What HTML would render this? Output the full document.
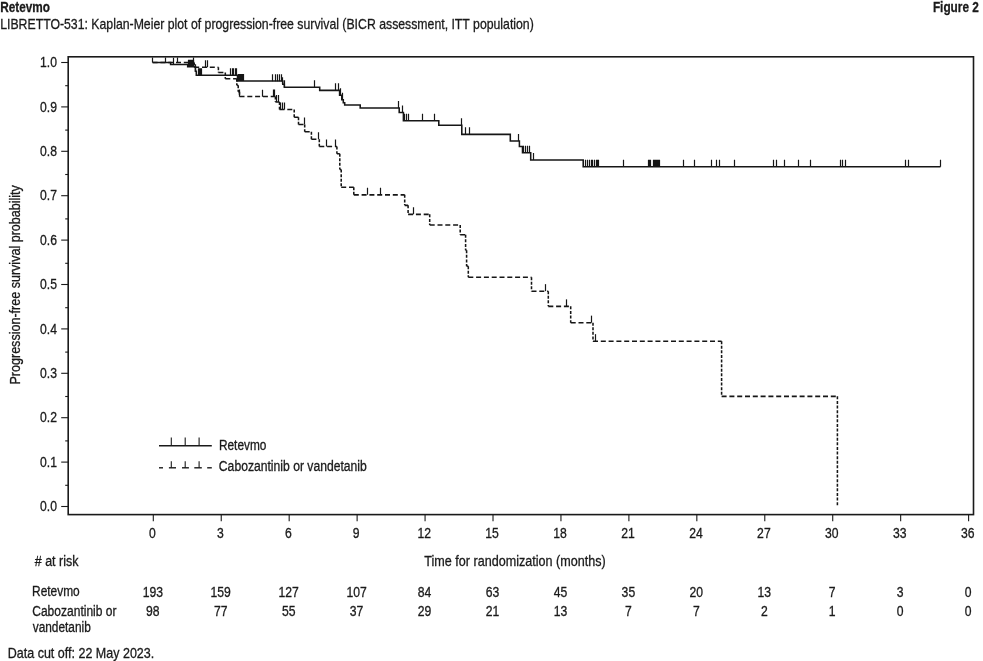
<!DOCTYPE html>
<html><head><meta charset="utf-8"><style>
html,body{margin:0;padding:0;background:#fff;}
body{width:983px;height:661px;overflow:hidden;font-family:"Liberation Sans", sans-serif;}
svg{display:block;will-change:transform;}
</style></head><body>
<svg width="983" height="661" viewBox="0 0 983 661">
<g font-family="Liberation Sans, sans-serif" fill="#1a1a1a" stroke="#1a1a1a" stroke-width="0.3">
<text x="0.21" y="11.7" font-size="15" font-weight="bold" textLength="49.76" lengthAdjust="spacingAndGlyphs">Retevmo</text>
<text x="0.18" y="28.8" font-size="15" font-weight="normal" textLength="533.61" lengthAdjust="spacingAndGlyphs">LIBRETTO-531: Kaplan-Meier plot of progression-free survival (BICR assessment, ITT population)</text>
<text x="932.91" y="11.5" font-size="15" font-weight="bold" textLength="45.97" lengthAdjust="spacingAndGlyphs">Figure 2</text>
<text x="34.80" y="565.8" font-size="14" font-weight="normal" textLength="43.64" lengthAdjust="spacingAndGlyphs"># at risk</text>
<text x="424.28" y="566.2" font-size="14.5" font-weight="normal" textLength="181.47" lengthAdjust="spacingAndGlyphs">Time for randomization (months)</text>
<text x="32.05" y="596.0" font-size="14" font-weight="normal" textLength="47.70" lengthAdjust="spacingAndGlyphs">Retevmo</text>
<text x="32.26" y="616.1" font-size="14" font-weight="normal" textLength="84.21" lengthAdjust="spacingAndGlyphs">Cabozantinib or</text>
<text x="32.69" y="631.9" font-size="14" font-weight="normal" textLength="58.15" lengthAdjust="spacingAndGlyphs">vandetanib</text>
<text x="7.74" y="657.8" font-size="14.5" font-weight="normal" textLength="146.49" lengthAdjust="spacingAndGlyphs">Data cut off: 22 May 2023.</text>
<text x="218.95" y="449.8" font-size="14" font-weight="normal" textLength="47.50" lengthAdjust="spacingAndGlyphs">Retevmo</text>
<text x="218.85" y="470.7" font-size="14" font-weight="normal" textLength="147.96" lengthAdjust="spacingAndGlyphs">Cabozantinib or vandetanib</text>
<text transform="translate(20,284.85) rotate(-90)" x="0" y="0" text-anchor="middle" font-size="14.5" textLength="199.38" lengthAdjust="spacingAndGlyphs">Progression-free survival probability</text>
<text x="57.0" y="511.10" text-anchor="end" font-size="14" textLength="16.92" lengthAdjust="spacingAndGlyphs">0.0</text>
<text x="57.0" y="466.70" text-anchor="end" font-size="14" textLength="16.92" lengthAdjust="spacingAndGlyphs">0.1</text>
<text x="57.0" y="422.30" text-anchor="end" font-size="14" textLength="16.92" lengthAdjust="spacingAndGlyphs">0.2</text>
<text x="57.0" y="377.90" text-anchor="end" font-size="14" textLength="16.92" lengthAdjust="spacingAndGlyphs">0.3</text>
<text x="57.0" y="333.50" text-anchor="end" font-size="14" textLength="16.92" lengthAdjust="spacingAndGlyphs">0.4</text>
<text x="57.0" y="289.10" text-anchor="end" font-size="14" textLength="16.92" lengthAdjust="spacingAndGlyphs">0.5</text>
<text x="57.0" y="244.70" text-anchor="end" font-size="14" textLength="16.92" lengthAdjust="spacingAndGlyphs">0.6</text>
<text x="57.0" y="200.30" text-anchor="end" font-size="14" textLength="16.92" lengthAdjust="spacingAndGlyphs">0.7</text>
<text x="57.0" y="155.90" text-anchor="end" font-size="14" textLength="16.92" lengthAdjust="spacingAndGlyphs">0.8</text>
<text x="57.0" y="111.50" text-anchor="end" font-size="14" textLength="16.92" lengthAdjust="spacingAndGlyphs">0.9</text>
<text x="57.0" y="67.10" text-anchor="end" font-size="14" textLength="16.92" lengthAdjust="spacingAndGlyphs">1.0</text>
<text x="152.40" y="537.9" text-anchor="middle" font-size="14" textLength="6.77" lengthAdjust="spacingAndGlyphs">0</text>
<text x="220.34" y="537.9" text-anchor="middle" font-size="14" textLength="6.77" lengthAdjust="spacingAndGlyphs">3</text>
<text x="288.28" y="537.9" text-anchor="middle" font-size="14" textLength="6.77" lengthAdjust="spacingAndGlyphs">6</text>
<text x="356.23" y="537.9" text-anchor="middle" font-size="14" textLength="6.77" lengthAdjust="spacingAndGlyphs">9</text>
<text x="424.17" y="537.9" text-anchor="middle" font-size="14" textLength="13.54" lengthAdjust="spacingAndGlyphs">12</text>
<text x="492.11" y="537.9" text-anchor="middle" font-size="14" textLength="13.54" lengthAdjust="spacingAndGlyphs">15</text>
<text x="560.05" y="537.9" text-anchor="middle" font-size="14" textLength="13.54" lengthAdjust="spacingAndGlyphs">18</text>
<text x="627.99" y="537.9" text-anchor="middle" font-size="14" textLength="13.54" lengthAdjust="spacingAndGlyphs">21</text>
<text x="695.93" y="537.9" text-anchor="middle" font-size="14" textLength="13.54" lengthAdjust="spacingAndGlyphs">24</text>
<text x="763.88" y="537.9" text-anchor="middle" font-size="14" textLength="13.54" lengthAdjust="spacingAndGlyphs">27</text>
<text x="831.82" y="537.9" text-anchor="middle" font-size="14" textLength="13.54" lengthAdjust="spacingAndGlyphs">30</text>
<text x="899.76" y="537.9" text-anchor="middle" font-size="14" textLength="13.54" lengthAdjust="spacingAndGlyphs">33</text>
<text x="967.70" y="537.9" text-anchor="middle" font-size="14" textLength="13.54" lengthAdjust="spacingAndGlyphs">36</text>
<text x="152.80" y="596.8" text-anchor="middle" font-size="14" textLength="20.31" lengthAdjust="spacingAndGlyphs">193</text>
<text x="152.80" y="615.7" text-anchor="middle" font-size="14" textLength="13.54" lengthAdjust="spacingAndGlyphs">98</text>
<text x="220.74" y="596.8" text-anchor="middle" font-size="14" textLength="20.31" lengthAdjust="spacingAndGlyphs">159</text>
<text x="220.74" y="615.7" text-anchor="middle" font-size="14" textLength="13.54" lengthAdjust="spacingAndGlyphs">77</text>
<text x="288.68" y="596.8" text-anchor="middle" font-size="14" textLength="20.31" lengthAdjust="spacingAndGlyphs">127</text>
<text x="288.68" y="615.7" text-anchor="middle" font-size="14" textLength="13.54" lengthAdjust="spacingAndGlyphs">55</text>
<text x="356.62" y="596.8" text-anchor="middle" font-size="14" textLength="20.31" lengthAdjust="spacingAndGlyphs">107</text>
<text x="356.62" y="615.7" text-anchor="middle" font-size="14" textLength="13.54" lengthAdjust="spacingAndGlyphs">37</text>
<text x="424.57" y="596.8" text-anchor="middle" font-size="14" textLength="13.54" lengthAdjust="spacingAndGlyphs">84</text>
<text x="424.57" y="615.7" text-anchor="middle" font-size="14" textLength="13.54" lengthAdjust="spacingAndGlyphs">29</text>
<text x="492.51" y="596.8" text-anchor="middle" font-size="14" textLength="13.54" lengthAdjust="spacingAndGlyphs">63</text>
<text x="492.51" y="615.7" text-anchor="middle" font-size="14" textLength="13.54" lengthAdjust="spacingAndGlyphs">21</text>
<text x="560.45" y="596.8" text-anchor="middle" font-size="14" textLength="13.54" lengthAdjust="spacingAndGlyphs">45</text>
<text x="560.45" y="615.7" text-anchor="middle" font-size="14" textLength="13.54" lengthAdjust="spacingAndGlyphs">13</text>
<text x="628.39" y="596.8" text-anchor="middle" font-size="14" textLength="13.54" lengthAdjust="spacingAndGlyphs">35</text>
<text x="628.39" y="615.7" text-anchor="middle" font-size="14" textLength="6.77" lengthAdjust="spacingAndGlyphs">7</text>
<text x="696.33" y="596.8" text-anchor="middle" font-size="14" textLength="13.54" lengthAdjust="spacingAndGlyphs">20</text>
<text x="696.33" y="615.7" text-anchor="middle" font-size="14" textLength="6.77" lengthAdjust="spacingAndGlyphs">7</text>
<text x="764.28" y="596.8" text-anchor="middle" font-size="14" textLength="13.54" lengthAdjust="spacingAndGlyphs">13</text>
<text x="764.28" y="615.7" text-anchor="middle" font-size="14" textLength="6.77" lengthAdjust="spacingAndGlyphs">2</text>
<text x="832.22" y="596.8" text-anchor="middle" font-size="14" textLength="6.77" lengthAdjust="spacingAndGlyphs">7</text>
<text x="832.22" y="615.7" text-anchor="middle" font-size="14" textLength="6.77" lengthAdjust="spacingAndGlyphs">1</text>
<text x="900.16" y="596.8" text-anchor="middle" font-size="14" textLength="6.77" lengthAdjust="spacingAndGlyphs">3</text>
<text x="900.16" y="615.7" text-anchor="middle" font-size="14" textLength="6.77" lengthAdjust="spacingAndGlyphs">0</text>
<text x="968.10" y="596.8" text-anchor="middle" font-size="14" textLength="6.77" lengthAdjust="spacingAndGlyphs">0</text>
<text x="968.10" y="615.7" text-anchor="middle" font-size="14" textLength="6.77" lengthAdjust="spacingAndGlyphs">0</text>
</g>
<g stroke="#1a1a1a" fill="none">
<rect x="68.2" y="56.8" width="905.3" height="457.8" stroke-width="1.6"/>
<line x1="61.2" y1="506.50" x2="68" y2="506.50" stroke-width="1.1"/>
<line x1="61.2" y1="462.10" x2="68" y2="462.10" stroke-width="1.1"/>
<line x1="61.2" y1="417.70" x2="68" y2="417.70" stroke-width="1.1"/>
<line x1="61.2" y1="373.30" x2="68" y2="373.30" stroke-width="1.1"/>
<line x1="61.2" y1="328.90" x2="68" y2="328.90" stroke-width="1.1"/>
<line x1="61.2" y1="284.50" x2="68" y2="284.50" stroke-width="1.1"/>
<line x1="61.2" y1="240.10" x2="68" y2="240.10" stroke-width="1.1"/>
<line x1="61.2" y1="195.70" x2="68" y2="195.70" stroke-width="1.1"/>
<line x1="61.2" y1="151.30" x2="68" y2="151.30" stroke-width="1.1"/>
<line x1="61.2" y1="106.90" x2="68" y2="106.90" stroke-width="1.1"/>
<line x1="61.2" y1="62.50" x2="68" y2="62.50" stroke-width="1.1"/>
<line x1="65.2" y1="485.30" x2="68" y2="485.30" stroke-width="1.1"/>
<line x1="65.2" y1="440.90" x2="68" y2="440.90" stroke-width="1.1"/>
<line x1="65.2" y1="396.50" x2="68" y2="396.50" stroke-width="1.1"/>
<line x1="65.2" y1="352.10" x2="68" y2="352.10" stroke-width="1.1"/>
<line x1="65.2" y1="307.70" x2="68" y2="307.70" stroke-width="1.1"/>
<line x1="65.2" y1="263.30" x2="68" y2="263.30" stroke-width="1.1"/>
<line x1="65.2" y1="218.90" x2="68" y2="218.90" stroke-width="1.1"/>
<line x1="65.2" y1="174.50" x2="68" y2="174.50" stroke-width="1.1"/>
<line x1="65.2" y1="130.10" x2="68" y2="130.10" stroke-width="1.1"/>
<line x1="65.2" y1="85.70" x2="68" y2="85.70" stroke-width="1.1"/>
<line x1="153.30" y1="514.6" x2="153.30" y2="521.2" stroke-width="1.1"/>
<line x1="221.24" y1="514.6" x2="221.24" y2="521.2" stroke-width="1.1"/>
<line x1="289.18" y1="514.6" x2="289.18" y2="521.2" stroke-width="1.1"/>
<line x1="357.12" y1="514.6" x2="357.12" y2="521.2" stroke-width="1.1"/>
<line x1="425.07" y1="514.6" x2="425.07" y2="521.2" stroke-width="1.1"/>
<line x1="493.01" y1="514.6" x2="493.01" y2="521.2" stroke-width="1.1"/>
<line x1="560.95" y1="514.6" x2="560.95" y2="521.2" stroke-width="1.1"/>
<line x1="628.89" y1="514.6" x2="628.89" y2="521.2" stroke-width="1.1"/>
<line x1="696.83" y1="514.6" x2="696.83" y2="521.2" stroke-width="1.1"/>
<line x1="764.78" y1="514.6" x2="764.78" y2="521.2" stroke-width="1.1"/>
<line x1="832.72" y1="514.6" x2="832.72" y2="521.2" stroke-width="1.1"/>
<line x1="900.66" y1="514.6" x2="900.66" y2="521.2" stroke-width="1.1"/>
<line x1="968.60" y1="514.6" x2="968.60" y2="521.2" stroke-width="1.1"/>
</g>
<defs><clipPath id="pc"><rect x="68" y="57.6" width="905" height="457"/></clipPath></defs>
<g stroke="#161616" fill="none" stroke-width="1.55" clip-path="url(#pc)">
<path d="M152.6,62.45 H170.6 V64.45 H187.7 V66.65 H195.4 V71.25 H196.3 V75.25 H237.5 V81.05 H282.8 V84.25 H284.3 V87.25 H319.7 V90.35 H339.6 V95.25 H341.8 V99.75 H343.3 V102.75 H344.7 V105.05 H360.2 V108.05 H399.2 V112.55 H403.4 V120.65 H438.8 V125.15 H461.8 V134.35 H510.3 V141.05 H519.4 V146.55 H522.5 V152.65 H530.7 V159.95 H583.2 V166.65 H940.5"/>
<line x1="152.5" y1="62.45" x2="152.5" y2="55.45" stroke-width="1.2"/>
<line x1="165.5" y1="62.45" x2="165.5" y2="55.45" stroke-width="1.2"/>
<line x1="173.5" y1="64.45" x2="173.5" y2="57.45" stroke-width="1.2"/>
<line x1="188.5" y1="66.65" x2="188.5" y2="59.650000000000006" stroke-width="1.2"/>
<line x1="189.5" y1="66.65" x2="189.5" y2="59.650000000000006" stroke-width="1.2"/>
<line x1="190.5" y1="66.65" x2="190.5" y2="59.650000000000006" stroke-width="1.2"/>
<line x1="191.5" y1="66.65" x2="191.5" y2="59.650000000000006" stroke-width="1.2"/>
<line x1="192.5" y1="66.65" x2="192.5" y2="59.650000000000006" stroke-width="1.2"/>
<line x1="193.5" y1="66.65" x2="193.5" y2="59.650000000000006" stroke-width="1.2"/>
<line x1="195.5" y1="71.25" x2="195.5" y2="64.25" stroke-width="1.2"/>
<line x1="198.5" y1="75.25" x2="198.5" y2="68.25" stroke-width="1.2"/>
<line x1="199.5" y1="75.25" x2="199.5" y2="68.25" stroke-width="1.2"/>
<line x1="200.5" y1="75.25" x2="200.5" y2="68.25" stroke-width="1.2"/>
<line x1="201.5" y1="75.25" x2="201.5" y2="68.25" stroke-width="1.2"/>
<line x1="230.5" y1="75.25" x2="230.5" y2="68.25" stroke-width="1.2"/>
<line x1="232.5" y1="75.25" x2="232.5" y2="68.25" stroke-width="1.2"/>
<line x1="233.5" y1="75.25" x2="233.5" y2="68.25" stroke-width="1.2"/>
<line x1="235.5" y1="75.25" x2="235.5" y2="68.25" stroke-width="1.2"/>
<line x1="236.5" y1="75.25" x2="236.5" y2="68.25" stroke-width="1.2"/>
<line x1="238.5" y1="81.05" x2="238.5" y2="74.05" stroke-width="1.2"/>
<line x1="239.5" y1="81.05" x2="239.5" y2="74.05" stroke-width="1.2"/>
<line x1="240.5" y1="81.05" x2="240.5" y2="74.05" stroke-width="1.2"/>
<line x1="241.5" y1="81.05" x2="241.5" y2="74.05" stroke-width="1.2"/>
<line x1="242.5" y1="81.05" x2="242.5" y2="74.05" stroke-width="1.2"/>
<line x1="243.5" y1="81.05" x2="243.5" y2="74.05" stroke-width="1.2"/>
<line x1="272.5" y1="81.25" x2="272.5" y2="74.25" stroke-width="1.2"/>
<line x1="275.5" y1="81.25" x2="275.5" y2="74.25" stroke-width="1.2"/>
<line x1="277.5" y1="81.25" x2="277.5" y2="74.25" stroke-width="1.2"/>
<line x1="279.5" y1="81.25" x2="279.5" y2="74.25" stroke-width="1.2"/>
<line x1="281.5" y1="81.25" x2="281.5" y2="74.25" stroke-width="1.2"/>
<line x1="282.5" y1="84.25" x2="282.5" y2="77.25" stroke-width="1.2"/>
<line x1="284.5" y1="87.25" x2="284.5" y2="80.25" stroke-width="1.2"/>
<line x1="314.5" y1="87.25" x2="314.5" y2="80.25" stroke-width="1.2"/>
<line x1="335.5" y1="90.35" x2="335.5" y2="83.35" stroke-width="1.2"/>
<line x1="338.5" y1="90.35" x2="338.5" y2="83.35" stroke-width="1.2"/>
<line x1="340.5" y1="95.25" x2="340.5" y2="88.25" stroke-width="1.2"/>
<line x1="342.5" y1="99.75" x2="342.5" y2="92.75" stroke-width="1.2"/>
<line x1="398.5" y1="108.05" x2="398.5" y2="101.05" stroke-width="1.2"/>
<line x1="402.5" y1="112.55" x2="402.5" y2="105.55" stroke-width="1.2"/>
<line x1="404.5" y1="120.65" x2="404.5" y2="113.65" stroke-width="1.2"/>
<line x1="406.5" y1="120.65" x2="406.5" y2="113.65" stroke-width="1.2"/>
<line x1="408.5" y1="120.65" x2="408.5" y2="113.65" stroke-width="1.2"/>
<line x1="422.5" y1="120.65" x2="422.5" y2="113.65" stroke-width="1.2"/>
<line x1="434.5" y1="120.65" x2="434.5" y2="113.65" stroke-width="1.2"/>
<line x1="461.5" y1="125.15" x2="461.5" y2="118.15" stroke-width="1.2"/>
<line x1="465.5" y1="134.35" x2="465.5" y2="127.35" stroke-width="1.2"/>
<line x1="469.5" y1="134.35" x2="469.5" y2="127.35" stroke-width="1.2"/>
<line x1="518.5" y1="141.05" x2="518.5" y2="134.05" stroke-width="1.2"/>
<line x1="523.5" y1="152.65" x2="523.5" y2="145.65" stroke-width="1.2"/>
<line x1="525.5" y1="152.65" x2="525.5" y2="145.65" stroke-width="1.2"/>
<line x1="527.5" y1="152.65" x2="527.5" y2="145.65" stroke-width="1.2"/>
<line x1="529.5" y1="152.65" x2="529.5" y2="145.65" stroke-width="1.2"/>
<line x1="533.5" y1="159.95" x2="533.5" y2="152.95" stroke-width="1.2"/>
<line x1="585.5" y1="166.65" x2="585.5" y2="159.65" stroke-width="1.2"/>
<line x1="587.5" y1="166.65" x2="587.5" y2="159.65" stroke-width="1.2"/>
<line x1="589.5" y1="166.65" x2="589.5" y2="159.65" stroke-width="1.2"/>
<line x1="591.5" y1="166.65" x2="591.5" y2="159.65" stroke-width="1.2"/>
<line x1="592.5" y1="166.65" x2="592.5" y2="159.65" stroke-width="1.2"/>
<line x1="594.5" y1="166.65" x2="594.5" y2="159.65" stroke-width="1.2"/>
<line x1="596.5" y1="166.65" x2="596.5" y2="159.65" stroke-width="1.2"/>
<line x1="597.5" y1="166.65" x2="597.5" y2="159.65" stroke-width="1.2"/>
<line x1="598.5" y1="166.65" x2="598.5" y2="159.65" stroke-width="1.2"/>
<line x1="623.5" y1="166.65" x2="623.5" y2="159.65" stroke-width="1.2"/>
<line x1="648.5" y1="166.65" x2="648.5" y2="159.65" stroke-width="1.2"/>
<line x1="649.5" y1="166.65" x2="649.5" y2="159.65" stroke-width="1.2"/>
<line x1="650.5" y1="166.65" x2="650.5" y2="159.65" stroke-width="1.2"/>
<line x1="653.5" y1="166.65" x2="653.5" y2="159.65" stroke-width="1.2"/>
<line x1="654.5" y1="166.65" x2="654.5" y2="159.65" stroke-width="1.2"/>
<line x1="655.5" y1="166.65" x2="655.5" y2="159.65" stroke-width="1.2"/>
<line x1="656.5" y1="166.65" x2="656.5" y2="159.65" stroke-width="1.2"/>
<line x1="657.5" y1="166.65" x2="657.5" y2="159.65" stroke-width="1.2"/>
<line x1="658.5" y1="166.65" x2="658.5" y2="159.65" stroke-width="1.2"/>
<line x1="659.5" y1="166.65" x2="659.5" y2="159.65" stroke-width="1.2"/>
<line x1="683.5" y1="166.65" x2="683.5" y2="159.65" stroke-width="1.2"/>
<line x1="694.5" y1="166.65" x2="694.5" y2="159.65" stroke-width="1.2"/>
<line x1="711.5" y1="166.65" x2="711.5" y2="159.65" stroke-width="1.2"/>
<line x1="716.5" y1="166.65" x2="716.5" y2="159.65" stroke-width="1.2"/>
<line x1="719.5" y1="166.65" x2="719.5" y2="159.65" stroke-width="1.2"/>
<line x1="734.5" y1="166.65" x2="734.5" y2="159.65" stroke-width="1.2"/>
<line x1="773.5" y1="166.65" x2="773.5" y2="159.65" stroke-width="1.2"/>
<line x1="776.5" y1="166.65" x2="776.5" y2="159.65" stroke-width="1.2"/>
<line x1="784.5" y1="166.65" x2="784.5" y2="159.65" stroke-width="1.2"/>
<line x1="798.5" y1="166.65" x2="798.5" y2="159.65" stroke-width="1.2"/>
<line x1="810.5" y1="166.65" x2="810.5" y2="159.65" stroke-width="1.2"/>
<line x1="840.5" y1="166.65" x2="840.5" y2="159.65" stroke-width="1.2"/>
<line x1="842.5" y1="166.65" x2="842.5" y2="159.65" stroke-width="1.2"/>
<line x1="845.5" y1="166.65" x2="845.5" y2="159.65" stroke-width="1.2"/>
<line x1="905.5" y1="166.65" x2="905.5" y2="159.65" stroke-width="1.2"/>
<line x1="908.5" y1="166.65" x2="908.5" y2="159.65" stroke-width="1.2"/>
<line x1="940.5" y1="166.65" x2="940.5" y2="159.65" stroke-width="1.2"/>
<line x1="152.6" y1="62.45" x2="194.2" y2="62.45" stroke-dasharray="5 2.8"/>
<line x1="194.2" y1="67.25" x2="218.4" y2="67.25" stroke-dasharray="5 2.8"/>
<line x1="218.4" y1="72.45" x2="225.3" y2="72.45" stroke-dasharray="5 2.8"/>
<line x1="225.3" y1="78.75" x2="236.8" y2="78.75" stroke-dasharray="5 2.8"/>
<line x1="236.8" y1="85.25" x2="238.2" y2="85.25" stroke-dasharray="5 2.8"/>
<line x1="238.2" y1="91.75" x2="239.5" y2="91.75" stroke-dasharray="5 2.8"/>
<line x1="239.5" y1="96.55" x2="275.4" y2="96.55" stroke-dasharray="5 2.8"/>
<line x1="275.4" y1="102.05" x2="279.5" y2="102.05" stroke-dasharray="5 2.8"/>
<line x1="279.5" y1="109.55" x2="294.2" y2="109.55" stroke-dasharray="5 2.8"/>
<line x1="294.2" y1="117.25" x2="298.5" y2="117.25" stroke-dasharray="5 2.8"/>
<line x1="298.5" y1="124.55" x2="304.7" y2="124.55" stroke-dasharray="5 2.8"/>
<line x1="304.7" y1="131.65" x2="311.4" y2="131.65" stroke-dasharray="5 2.8"/>
<line x1="311.4" y1="139.25" x2="319.3" y2="139.25" stroke-dasharray="5 2.8"/>
<line x1="319.3" y1="146.55" x2="336.9" y2="146.55" stroke-dasharray="5 2.8"/>
<line x1="336.9" y1="153.65" x2="339.8" y2="153.65" stroke-dasharray="5 2.8"/>
<line x1="339.8" y1="169.55" x2="341.2" y2="169.55" stroke-dasharray="5 2.8"/>
<line x1="341.2" y1="187.25" x2="353.8" y2="187.25" stroke-dasharray="5 2.8"/>
<line x1="353.8" y1="194.85" x2="404.7" y2="194.85" stroke-dasharray="5 2.8"/>
<line x1="404.7" y1="205.35" x2="408.1" y2="205.35" stroke-dasharray="5 2.8"/>
<line x1="408.1" y1="214.35" x2="429.7" y2="214.35" stroke-dasharray="5 2.8"/>
<line x1="429.7" y1="224.95" x2="460.2" y2="224.95" stroke-dasharray="5 2.8"/>
<line x1="460.2" y1="234.75" x2="465.6" y2="234.75" stroke-dasharray="5 2.8"/>
<line x1="465.6" y1="250.25" x2="466.6" y2="250.25" stroke-dasharray="5 2.8"/>
<line x1="466.6" y1="266.15" x2="468.3" y2="266.15" stroke-dasharray="5 2.8"/>
<line x1="468.3" y1="277.15" x2="531.5" y2="277.15" stroke-dasharray="5 2.8"/>
<line x1="531.5" y1="291.15" x2="548.3" y2="291.15" stroke-dasharray="5 2.8"/>
<line x1="548.3" y1="306.35" x2="570.7" y2="306.35" stroke-dasharray="5 2.8"/>
<line x1="570.7" y1="322.65" x2="593.0" y2="322.65" stroke-dasharray="5 2.8"/>
<line x1="593.0" y1="341.15" x2="721.6" y2="341.15" stroke-dasharray="5 2.8"/>
<line x1="721.6" y1="396.35" x2="837.4" y2="396.35" stroke-dasharray="5 2.8"/>
<line x1="194.2" y1="62.45" x2="194.2" y2="67.25" stroke-dasharray="3 1.6"/>
<line x1="218.4" y1="67.25" x2="218.4" y2="72.45" stroke-dasharray="3 1.6"/>
<line x1="225.3" y1="72.45" x2="225.3" y2="78.75" stroke-dasharray="3 1.6"/>
<line x1="236.8" y1="78.75" x2="236.8" y2="85.25" stroke-dasharray="3 1.6"/>
<line x1="238.2" y1="85.25" x2="238.2" y2="91.75" stroke-dasharray="3 1.6"/>
<line x1="239.5" y1="91.75" x2="239.5" y2="96.55" stroke-dasharray="3 1.6"/>
<line x1="275.4" y1="96.55" x2="275.4" y2="102.05" stroke-dasharray="3 1.6"/>
<line x1="279.5" y1="102.05" x2="279.5" y2="109.55" stroke-dasharray="3 1.6"/>
<line x1="294.2" y1="109.55" x2="294.2" y2="117.25" stroke-dasharray="3 1.6"/>
<line x1="298.5" y1="117.25" x2="298.5" y2="124.55" stroke-dasharray="3 1.6"/>
<line x1="304.7" y1="124.55" x2="304.7" y2="131.65" stroke-dasharray="3 1.6"/>
<line x1="311.4" y1="131.65" x2="311.4" y2="139.25" stroke-dasharray="3 1.6"/>
<line x1="319.3" y1="139.25" x2="319.3" y2="146.55" stroke-dasharray="3 1.6"/>
<line x1="336.9" y1="146.55" x2="336.9" y2="153.65" stroke-dasharray="3 1.6"/>
<line x1="339.8" y1="153.65" x2="339.8" y2="169.55" stroke-dasharray="3 1.6"/>
<line x1="341.2" y1="169.55" x2="341.2" y2="187.25" stroke-dasharray="3 1.6"/>
<line x1="353.8" y1="187.25" x2="353.8" y2="194.85" stroke-dasharray="3 1.6"/>
<line x1="404.7" y1="194.85" x2="404.7" y2="205.35" stroke-dasharray="3 1.6"/>
<line x1="408.1" y1="205.35" x2="408.1" y2="214.35" stroke-dasharray="3 1.6"/>
<line x1="429.7" y1="214.35" x2="429.7" y2="224.95" stroke-dasharray="3 1.6"/>
<line x1="460.2" y1="224.95" x2="460.2" y2="234.75" stroke-dasharray="3 1.6"/>
<line x1="465.6" y1="234.75" x2="465.6" y2="250.25" stroke-dasharray="3 1.6"/>
<line x1="466.6" y1="250.25" x2="466.6" y2="266.15" stroke-dasharray="3 1.6"/>
<line x1="468.3" y1="266.15" x2="468.3" y2="277.15" stroke-dasharray="3 1.6"/>
<line x1="531.5" y1="277.15" x2="531.5" y2="291.15" stroke-dasharray="3 1.6"/>
<line x1="548.3" y1="291.15" x2="548.3" y2="306.35" stroke-dasharray="3 1.6"/>
<line x1="570.7" y1="306.35" x2="570.7" y2="322.65" stroke-dasharray="3 1.6"/>
<line x1="593.0" y1="322.65" x2="593.0" y2="341.15" stroke-dasharray="3 1.6"/>
<line x1="721.6" y1="341.15" x2="721.6" y2="396.35" stroke-dasharray="3 1.6"/>
<line x1="837.4" y1="396.35" x2="837.4" y2="506.5" stroke-dasharray="3 1.6"/>
<line x1="177.5" y1="62.45" x2="177.5" y2="55.45" stroke-width="1.2"/>
<line x1="193.5" y1="62.45" x2="193.5" y2="55.45" stroke-width="1.2"/>
<line x1="205.5" y1="67.25" x2="205.5" y2="60.25" stroke-width="1.2"/>
<line x1="207.5" y1="67.25" x2="207.5" y2="60.25" stroke-width="1.2"/>
<line x1="239.5" y1="96.55" x2="239.5" y2="89.55" stroke-width="1.2"/>
<line x1="262.5" y1="96.75" x2="262.5" y2="89.75" stroke-width="1.2"/>
<line x1="273.5" y1="96.55" x2="273.5" y2="89.55" stroke-width="1.2"/>
<line x1="274.5" y1="96.55" x2="274.5" y2="89.55" stroke-width="1.2"/>
<line x1="276.5" y1="102.05" x2="276.5" y2="95.05" stroke-width="1.2"/>
<line x1="278.5" y1="102.05" x2="278.5" y2="95.05" stroke-width="1.2"/>
<line x1="280.5" y1="109.55" x2="280.5" y2="102.55" stroke-width="1.2"/>
<line x1="282.5" y1="109.55" x2="282.5" y2="102.55" stroke-width="1.2"/>
<line x1="284.5" y1="109.55" x2="284.5" y2="102.55" stroke-width="1.2"/>
<line x1="304.5" y1="124.55" x2="304.5" y2="117.55" stroke-width="1.2"/>
<line x1="318.5" y1="139.25" x2="318.5" y2="132.25" stroke-width="1.2"/>
<line x1="326.5" y1="146.55" x2="326.5" y2="139.55" stroke-width="1.2"/>
<line x1="335.5" y1="146.55" x2="335.5" y2="139.55" stroke-width="1.2"/>
<line x1="367.5" y1="194.85" x2="367.5" y2="187.85" stroke-width="1.2"/>
<line x1="380.5" y1="194.85" x2="380.5" y2="187.85" stroke-width="1.2"/>
<line x1="413.5" y1="214.35" x2="413.5" y2="207.35" stroke-width="1.2"/>
<line x1="545.5" y1="291.15" x2="545.5" y2="284.15" stroke-width="1.2"/>
<line x1="566.5" y1="306.35" x2="566.5" y2="299.35" stroke-width="1.2"/>
<line x1="591.5" y1="322.65" x2="591.5" y2="315.65" stroke-width="1.2"/>
<line x1="595.5" y1="341.15" x2="595.5" y2="334.15" stroke-width="1.2"/>
</g><g stroke="#1a1a1a" fill="none" stroke-width="1.4">
<line x1="159" y1="445.7" x2="211.8" y2="445.7" stroke-width="1.4"/>
<line x1="171.3" y1="445.7" x2="171.3" y2="437.5" stroke-width="1.1"/>
<line x1="185.2" y1="445.7" x2="185.2" y2="437.5" stroke-width="1.1"/>
<line x1="199.1" y1="445.7" x2="199.1" y2="437.5" stroke-width="1.1"/>
<line x1="159" y1="467.8" x2="163" y2="467.8" stroke-width="1.4"/>
<line x1="168.9" y1="467.8" x2="176" y2="467.8" stroke-width="1.4"/>
<line x1="182" y1="467.8" x2="188.9" y2="467.8" stroke-width="1.4"/>
<line x1="194.3" y1="467.8" x2="201.8" y2="467.8" stroke-width="1.4"/>
<line x1="207.2" y1="467.8" x2="211.8" y2="467.8" stroke-width="1.4"/>
<line x1="171.3" y1="467.8" x2="171.3" y2="461.3" stroke-width="1.1"/>
<line x1="185.2" y1="467.8" x2="185.2" y2="461.3" stroke-width="1.1"/>
<line x1="199.1" y1="467.8" x2="199.1" y2="461.3" stroke-width="1.1"/>
</g>
</svg>
</body></html>
